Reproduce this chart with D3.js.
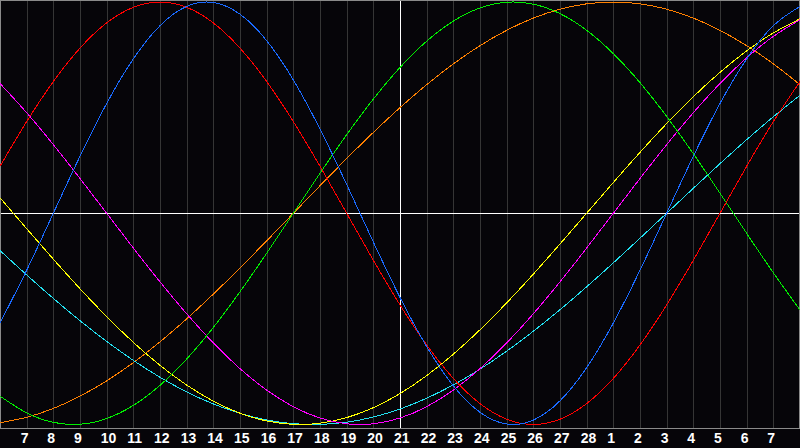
<!DOCTYPE html>
<html><head><meta charset="utf-8">
<script src="https://cdn.jsdelivr.net/npm/d3@7"></script>
<style>html,body{margin:0;padding:0;background:#060509;overflow:hidden}</style>
</head><body>
<svg id="c" width="800" height="448"></svg>
<script>
// Day labels at gridlines 1..29
const dayLabels = ["7","8","9","10","11","12","13","14","15","16","17","18","19","20","21","22","23","24","25","26","27","28","1","2","3","4","5","6","7"];
// values per day index 0..30
const physical = [-0.5196,-0.2698,0,0.2698,0.5196,0.7308,0.8879,0.9791,0.9977,0.9423,0.8170,0.6311,0.3984,0.1362,-0.1362,-0.3984,-0.6311,-0.8170,-0.9423,-0.9977,-0.9791,-0.8879,-0.7308,-0.5196,-0.2698,0,0.2698,0.5196,0.7308,0.8879,0.9791];
const emotional = [0.2225,0.4339,0.6235,0.7818,0.9010,0.9749,1.0,0.9749,0.9010,0.7818,0.6235,0.4339,0.2225,0,-0.2225,-0.4339,-0.6235,-0.7818,-0.9010,-0.9749,-1.0,-0.9749,-0.9010,-0.7818,-0.6235,-0.4339,-0.2225,0,0.2225,0.4339,0.6235];
const intellectual = [-0.8660,-0.9450,-0.9898,-0.9989,-0.9718,-0.9096,-0.8146,-0.6901,-0.5406,-0.3717,-0.1893,0,0.1893,0.3717,0.5406,0.6901,0.8146,0.9096,0.9718,0.9989,0.9898,0.9450,0.8660,0.7557,0.6182,0.4582,0.2817,0.0951,-0.0951,-0.2817,-0.4582];
const intuitive = [0.6142,0.4759,0.3247,0.1646,0,-0.1646,-0.3247,-0.4759,-0.6142,-0.7357,-0.8372,-0.9158,-0.9694,-0.9966,-0.9966,-0.9694,-0.9158,-0.8372,-0.7357,-0.6142,-0.4759,-0.3247,-0.1646,0,0.1646,0.3247,0.4759,0.6142,0.7357,0.8372,0.9158];
const aesthetic = [0.0730,-0.0730,-0.2174,-0.3572,-0.4894,-0.6111,-0.7200,-0.8133,-0.8894,-0.9465,-0.9833,-0.9993,-0.9940,-0.9675,-0.9204,-0.8536,-0.7686,-0.6672,-0.5517,-0.4245,-0.2881,-0.1456,0,0.1456,0.2881,0.4245,0.5517,0.6672,0.7686,0.8536,0.9204];
const awareness = [-0.9914,-0.9659,-0.9239,-0.8660,-0.7934,-0.7071,-0.6088,-0.5,-0.3827,-0.2588,-0.1305,0,0.1305,0.2588,0.3827,0.5,0.6088,0.7071,0.7934,0.8660,0.9239,0.9659,0.9914,1.0,0.9914,0.9659,0.9239,0.8660,0.7934,0.7071,0.6088];
const spiritual = [-0.1769,-0.2920,-0.4031,-0.5086,-0.6068,-0.6965,-0.7765,-0.8457,-0.9028,-0.9473,-0.9785,-0.9961,-0.9996,-0.9890,-0.9647,-0.9267,-0.8757,-0.8125,-0.7381,-0.6528,-0.5586,-0.4566,-0.3482,-0.2349,-0.1183,0,0.1183,0.2349,0.3482,0.4566,0.5586];

const seriesNames = ["awareness","spiritual","aesthetic","intuitive","intellectual","emotional","physical"];
const seriesValues = [awareness, spiritual, aesthetic, intuitive, intellectual, emotional, physical];
const seriesColors = ["#ff8000","#22e0f0","#ffff00","#ff00ff","#00ee00","#ff0000","#1a6aff"];

const W = 800, H = 448, plotH = 428;
const svg = d3.select("#c");
svg.append("rect").attr("width", W).attr("height", H).attr("fill", "#060509");

const x = d3.scaleLinear().domain([0, 30]).range([0, 800]);
const y = d3.scaleLinear().domain([-1, 1]).range([424.5, 2]);

// axis with gridlines
const axis = d3.axisBottom(x)
  .tickValues(d3.range(1, 30))
  .tickFormat(i => dayLabels[i - 1])
  .tickSize(-plotH)
  .tickSizeOuter(0);
const gx = svg.append("g").attr("transform", `translate(0,${plotH})`).call(axis);
gx.select(".domain").attr("stroke", "#8a8a8a").attr("shape-rendering", "crispEdges");
gx.selectAll(".tick line")
  .attr("stroke", d => d === 15 ? "#ffffff" : "#353535")
  .attr("shape-rendering", "crispEdges");
gx.selectAll(".tick text")
  .attr("fill", "#ffffff")
  .attr("text-anchor", "start")
  .attr("x", -6.5)
  .attr("y", 15)
  .attr("dy", 0)
  .style("font-family", "'Liberation Sans', Arial, sans-serif")
  .style("font-weight", "bold")
  .style("font-size", "14px");

// zero line
svg.append("line")
  .attr("x1", 0).attr("x2", W)
  .attr("y1", 213.5).attr("y2", 213.5)
  .attr("stroke", "#ffffff").attr("shape-rendering", "crispEdges");

// frame
svg.append("rect")
  .attr("x", 0.5).attr("y", 0.5).attr("width", W - 1).attr("height", plotH)
  .attr("fill", "none").attr("stroke", "#8a8a8a").attr("shape-rendering", "crispEdges");

const line = d3.line().x((d, i) => x(i)).y(d => y(d)).curve(d3.curveNatural);
svg.append("g").selectAll("path")
  .data(seriesValues)
  .join("path")
  .attr("d", line)
  .attr("fill", "none")
  .attr("stroke", (d, i) => seriesColors[i])
  .attr("stroke-width", 1)
  .attr("shape-rendering", "crispEdges")
  .attr("class", (d, i) => seriesNames[i]);
</script>
</body></html>
